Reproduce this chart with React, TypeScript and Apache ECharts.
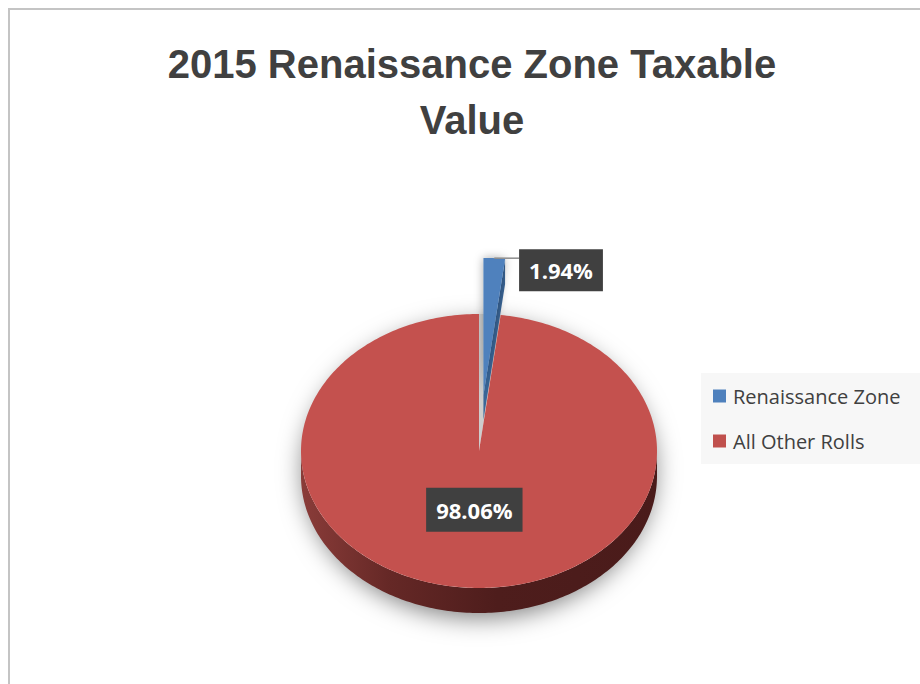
import React, { useEffect, useRef } from "react";
import * as echarts from "echarts";

const titleLines = ["2015 Renaissance Zone Taxable", "Value"];
const categories = ["Renaissance Zone", "All Other Rolls"];
const values = [1.94, 98.06];
const labels = ["1.94%", "98.06%"];
const colors = ["#4F81BD", "#C0504D"];

// layout / style constants
const CX = 479;
const CY = 451;
const RX = 178;
const RY = 137;
const DEPTH = 25;
const EXPLODE_FIRST = 0.41;
const LABEL_R = 0.43;
const LABEL_FONT = 'bold 22px "Open Sans", sans-serif';

const total = values.reduce((a, b) => a + b, 0);
const startAngle = (i: number) => {
  let s = 0;
  for (let k = 0; k < i; k++) s += values[k];
  return (2 * Math.PI * s) / total;
};
const pt = (t: number, dx = 0, dy = 0): number[] => [
  CX + RX * Math.sin(t) + dx,
  CY - RY * Math.cos(t) + dy,
];
const arc = (a: number, b: number, dx = 0, dy = 0): number[][] => {
  const n = Math.max(2, Math.ceil(Math.abs(b - a) / (Math.PI / 180)));
  const out: number[][] = [];
  for (let k = 0; k <= n; k++) out.push(pt(a + ((b - a) * k) / n, dx, dy));
  return out;
};

function makeRender(i: number) {
  return (_params: any, api: any) => {
    const v = api.value(0);
    const a0 = startAngle(i);
    const a1 = a0 + (2 * Math.PI * v) / total;
    const mid = (a0 + a1) / 2;
    const e = i === 0 ? EXPLODE_FIRST : 0;
    const ox = e * RX * Math.sin(mid);
    const oy = -e * RY * Math.cos(mid);
    const children: any[] = [];

    if (i === 0) {
      // drop shadow of whole pie
      children.push({
        type: "ellipse",
        shape: { cx: CX, cy: CY + DEPTH / 2, rx: RX - 2, ry: RY + DEPTH / 2 - 2 },
        style: {
          fill: "#ffffff",
          shadowBlur: 24,
          shadowColor: "rgba(0,0,0,0.5)",
          shadowOffsetY: 7,
        },
      });
      // gap left by exploded slice
      children.push({
        type: "polygon",
        shape: { points: [[CX, CY], ...arc(a0, a1)] },
        style: { fill: "#CDCDCD" },
      });
      // cut face
      const pe = pt(a1, ox, oy);
      children.push({
        type: "polygon",
        shape: {
          points: [
            [CX + ox, CY + oy],
            pe,
            [pe[0], pe[1] + DEPTH],
            [CX + ox, CY + oy + DEPTH],
          ],
        },
        style: { fill: "#3A6698" },
      });
      children.push({
        type: "polygon",
        shape: { points: [[CX + ox, CY + oy], ...arc(a0, a1, ox, oy)] },
        style: {
          fill: colors[i],
          shadowBlur: 10,
          shadowColor: "rgba(0,0,0,0.35)",
        },
      });
      // leader line + label
      const top = pt(mid, ox, oy);
      const bx = pe[0] + 14;
      children.push({
        type: "line",
        shape: { x1: top[0], y1: top[1], x2: bx, y2: top[1] },
        style: { stroke: "#8C8C8C", lineWidth: 1.5 },
      });
      children.push({
        type: "text",
        style: {
          text: labels[i],
          x: bx,
          y: top[1] + 12,
          align: "left",
          verticalAlign: "middle",
          fill: "#ffffff",
          font: LABEL_FONT,
          backgroundColor: "#404040",
          padding: [7, 10, 5, 10],
          lineHeight: 30,
          boxShadowBlur: 6,
          boxShadowColor: "rgba(0,0,0,0.45)",
          boxShadowOffsetX: 3,
          boxShadowOffsetY: 3,
        },
      });
    } else {
      // outer side wall (front half only)
      const s0 = Math.max(a0, Math.PI / 2);
      const s1 = Math.min(a1, (3 * Math.PI) / 2);
      if (s1 > s0) {
        const topArc = arc(s0, s1);
        const botArc = arc(s1, s0, 0, DEPTH);
        children.push({
          type: "polygon",
          shape: { points: [...topArc, ...botArc] },
          style: {
            fill: new echarts.graphic.LinearGradient(0, 0, 1, 0, [
              { offset: 0, color: "#8A3C39" },
              { offset: 0.25, color: "#652826" },
              { offset: 0.55, color: "#4E1D1C" },
              { offset: 1, color: "#4A1B1A" },
            ]),
          },
        });
      }
      children.push({
        type: "polygon",
        shape: { points: [[CX, CY], ...arc(a0, a1)] },
        style: { fill: "#C4514E" },
      });
      const lp = [
        CX + RX * LABEL_R * Math.sin(mid),
        CY - RY * LABEL_R * Math.cos(mid),
      ];
      children.push({
        type: "text",
        style: {
          text: labels[i],
          x: lp[0],
          y: lp[1],
          align: "center",
          verticalAlign: "middle",
          fill: "#ffffff",
          font: LABEL_FONT,
          backgroundColor: "#404040",
          padding: [8, 10, 6, 10],
          lineHeight: 30,
          boxShadowBlur: 6,
          boxShadowColor: "rgba(0,0,0,0.45)",
          boxShadowOffsetX: 3,
          boxShadowOffsetY: 3,
        },
      });
    }
    return { type: "group", children };
  };
}

export default function App() {
  const ref = useRef<HTMLDivElement>(null);
  useEffect(() => {
    document.body.style.margin = "0";
    if (!ref.current) return;
    const chart = echarts.init(ref.current, null, { renderer: "svg" });
    chart.setOption({
      animation: false,
      backgroundColor: "#ffffff",
      color: colors,
      title: {
        text: titleLines.join("\n"),
        left: 467,
        top: 31,
        textAlign: "center",
        textStyle: {
          fontFamily: '"Liberation Sans", Arial, sans-serif',
          fontWeight: "bold",
          fontSize: 40,
          lineHeight: 56,
          color: "#404040",
        },
      },
      legend: {
        orient: "vertical",
        left: 701,
        top: 373,
        backgroundColor: "#F7F7F7",
        padding: [13, 40, 13, 12],
        itemWidth: 13,
        itemHeight: 13,
        itemGap: 25,
        icon: "rect",
        selectedMode: false,
        data: categories,
        textStyle: {
          fontFamily: '"Open Sans", sans-serif',
          fontSize: 20,
          lineHeight: 20,
          color: "#404040",
          padding: [0, 0, 0, 2],
        },
      },
      graphic: [
        {
          type: "rect",
          shape: { x: 9, y: 9, width: 1000, height: 1000 },
          style: { fill: "none", stroke: "#C4C4C4", lineWidth: 2 },
          silent: true,
        },
      ],
      series: categories.map((name, i) => ({
        type: "custom",
        name,
        coordinateSystem: "none",
        silent: true,
        itemStyle: { color: colors[i] },
        renderItem: makeRender(i),
        data: [values[i]],
      })),
    });
    return () => chart.dispose();
  }, []);
  return (
    <div
      ref={ref}
      style={{ position: "fixed", left: 0, top: 0, width: 920, height: 684 }}
    />
  );
}
